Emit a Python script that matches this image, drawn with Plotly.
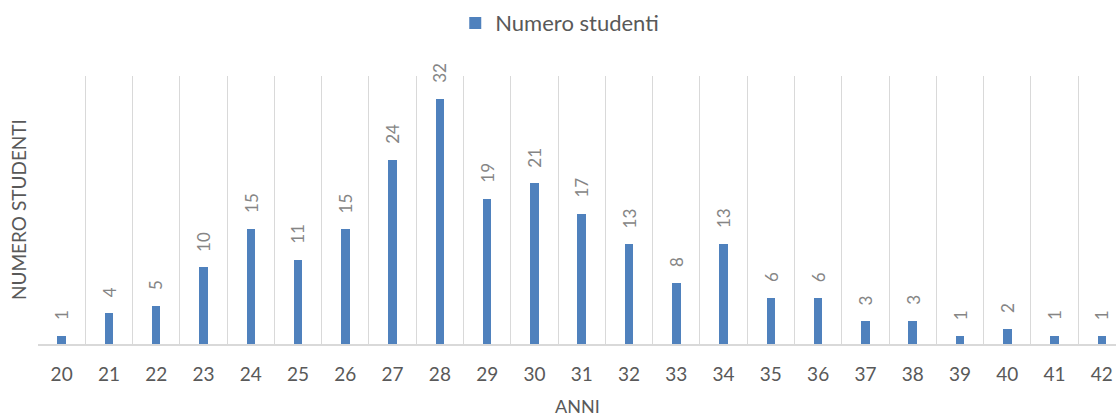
import plotly.graph_objects as go

anni = list(range(20, 43))
studenti = [1, 4, 5, 10, 15, 11, 15, 24, 32, 19, 21, 17, 13, 8, 13, 6, 6, 3, 3, 1, 2, 1, 1]
serie = "Numero studenti"
titolo_x = "ANNI"
titolo_y = "NUMERO STUDENTI"

font_family = "Lato, Open Sans, sans-serif"

fig = go.Figure()
fig.add_trace(go.Bar(
    x=anni, y=studenti, name=serie,
    marker=dict(color="#4f81bd", line=dict(width=0)),
    width=0.18,
))

boundaries = [a - 0.5 for a in anni] + [anni[-1] + 0.5]

annotations = [
    dict(x=a, y=v, xref="x", yref="y", text=str(v), showarrow=False,
         textangle=-90, yanchor="bottom", xanchor="center", yshift=14,
         font=dict(size=17, color="#858585", family=font_family))
    for a, v in zip(anni, studenti)
]
annotations += [
    dict(text=titolo_x, xref="paper", yref="paper", x=0.5, y=0, yshift=-62,
         showarrow=False, font=dict(size=18, color="#595959"), yanchor="middle"),
    dict(text=titolo_y, xref="paper", yref="paper", x=0, y=0.5, xshift=-20,
         showarrow=False, textangle=-90, font=dict(size=19, color="#595959"),
         xanchor="center", yanchor="middle"),
]

fig.update_layout(
    width=1116, height=417,
    margin=dict(l=38, r=0, t=76, b=73),
    plot_bgcolor="white", paper_bgcolor="white",
    font=dict(family=font_family, color="#595959"),
    showlegend=True,
    legend=dict(orientation="h", x=0.484, xanchor="center", y=0.995, yanchor="top",
                yref="container", font=dict(size=22, color="#595959")),
    bargap=0,
    xaxis=dict(
        range=[19.5, 42.3], tickmode="array", tickvals=anni,
        ticktext=[str(a) for a in anni], showgrid=False, zeroline=False,
        showline=True, linecolor="#d9d9d9", linewidth=1.5,
        ticks="", tickfont=dict(size=19, color="#595959"), ticklabelstandoff=12,
        minor=dict(tickmode="array", tickvals=boundaries, showgrid=True,
                   gridcolor="#d9d9d9", gridwidth=1.3, ticks=""),
    ),
    yaxis=dict(range=[0, 35], showgrid=False, zeroline=False, showticklabels=False,
               showline=False, ticks=""),
    annotations=annotations,
)

fig.write_html("out.html")
